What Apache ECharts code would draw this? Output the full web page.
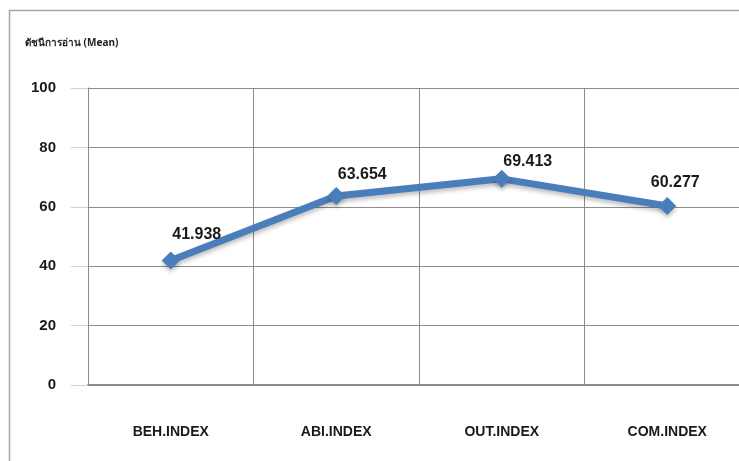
<!DOCTYPE html>
<html>
<head>
<meta charset="utf-8">
<script src="https://cdn.jsdelivr.net/npm/echarts@6/dist/echarts.min.js"></script>
<style>
  html, body { margin: 0; padding: 0; background: #fff; }
  #chart { width: 739px; height: 461px; }
</style>
</head>
<body>
<div id="chart"></div>
<script>
// data
var categories = ["BEH.INDEX", "ABI.INDEX", "OUT.INDEX", "COM.INDEX"]
var meanValues = [41.938, 63.654, 69.413, 60.277]
var yTicks = [0, 20, 40, 60, 80, 100]
// label nudges, as placed in the original
var labelShiftX = [26, 26, 26, 8]
var labelShiftY = [1, 6, 10, 4]

var chart = echarts.init(document.getElementById("chart"))

var points = meanValues.map(function (v, i) {
  return {
    value: v,
    label: { offset: [labelShiftX[i], labelShiftY[i]] }
  }
})

chart.setOption({
  animation: false,
  graphic: [
    {
      type: "rect",
      shape: { x: 9.5, y: 10.5, width: 760, height: 470 },
      style: { fill: "none", stroke: "#a6a6a6", lineWidth: 1.5 }
    },
    {
      type: "text",
      left: 25,
      top: 38,
      style: {
        text: "ดัชนีการอ่าน (Mean)",
        font: "bold 10px 'Noto Sans', Arial, sans-serif",
        fill: "#222"
      }
    }
  ],
  grid: {
    left: 88,
    top: 88,
    width: 662,
    height: 297,
    outerBoundsMode: "none",
    containLabel: false
  },
  xAxis: {
    type: "category",
    data: categories,
    boundaryGap: true,
    axisLine: { lineStyle: { color: "#8c8c8c", width: 2 } },
    axisTick: { show: false },
    axisLabel: {
      margin: 40,
      color: "#1a1a1a",
      fontWeight: "bold",
      fontSize: 14,
      fontFamily: "Liberation Sans Narrow, Arial, sans-serif"
    },
    splitLine: { show: true, lineStyle: { color: "#8c8c8c", width: 1 } }
  },
  yAxis: {
    type: "value",
    min: yTicks[0],
    max: yTicks[yTicks.length - 1],
    interval: 20,
    axisLine: { show: true, lineStyle: { color: "#8c8c8c", width: 1 } },
    axisTick: { show: true, length: 17, lineStyle: { color: "#d0d0d0" } },
    axisLabel: {
      margin: 32,
      color: "#1a1a1a",
      fontWeight: "bold",
      fontSize: 15,
      fontFamily: "Arial, sans-serif"
    },
    splitLine: { lineStyle: { color: "#8c8c8c", width: 1 } }
  },
  series: [
    {
      type: "line",
      data: points,
      symbol: "diamond",
      symbolSize: 18,
      lineStyle: {
        color: "#4a7ebb",
        width: 7,
        shadowColor: "rgba(0,0,0,0.25)",
        shadowBlur: 4,
        shadowOffsetY: 3
      },
      itemStyle: {
        color: "#4a7ebb",
        shadowColor: "rgba(0,0,0,0.25)",
        shadowBlur: 4,
        shadowOffsetY: 3
      },
      label: {
        show: true,
        position: "top",
        distance: 10,
        color: "#1a1a1a",
        fontWeight: "bold",
        fontSize: 16,
        fontFamily: "Arial, sans-serif",
        formatter: function (p) { return p.value.toFixed(3) }
      }
    }
  ]
})
</script>
</body>
</html>
